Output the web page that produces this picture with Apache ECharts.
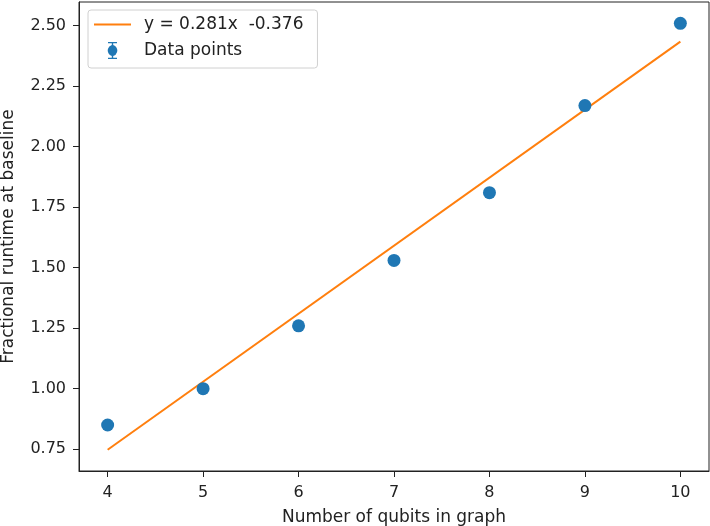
<!DOCTYPE html>
<html>
<head>
<meta charset="utf-8">
<script src="https://cdn.jsdelivr.net/npm/echarts@6/dist/echarts.min.js"></script>
<style>
  html, body { margin: 0; padding: 0; background: #fff; }
  #chart { width: 710px; height: 526px; }
</style>
</head>
<body>
<div id="chart"></div>
<script>
// qubit counts and measured runtimes
var qubits = [4, 5, 6, 7, 8, 9, 10];
var runtimes = [0.85, 1.00, 1.26, 1.53, 1.81, 2.17, 2.51];

// fitted line end points
var fitX = [4, 10];
var fitY = [0.748, 2.434];

var yTicks = [0.75, 1.00, 1.25, 1.50, 1.75, 2.00, 2.25, 2.50];

var fitName = 'y = 0.281x  -0.376';
var pointsName = 'Data points';

var font = 'DejaVu Sans';

var chart = echarts.init(document.getElementById('chart'));

chart.setOption({
  animation: false,
  textStyle: { fontFamily: font },
  grid: { left: 79, right: 1, top: 2, bottom: 55, containLabel: false, outerBoundsMode: 'none' },
  legend: {
    left: 88,
    top: 10,
    orient: 'vertical',
    itemGap: 9,
    itemWidth: 37,
    itemHeight: 17,
    padding: [6, 14, 9, 6],
    borderColor: '#d0d0d0',
    borderWidth: 1,
    borderRadius: 3,
    textStyle: { fontFamily: font, fontSize: 17, color: '#222', padding: [0, 0, 0, 8] },
    data: [
      { name: fitName, icon: 'path://M0,7.5 L37,7.5 L37,9.7 L0,9.7 Z' },
      { name: pointsName, icon: 'path://M14,0 L23,0 L23,1.3 L19.2,1.3 L19.2,3.1 A5.6,5.6 0 0 1 19.2,13.9 L19.2,15.7 L23,15.7 L23,17 L14,17 L14,15.7 L17.8,15.7 L17.8,13.9 A5.6,5.6 0 0 1 17.8,3.1 L17.8,1.3 L14,1.3 Z' }
    ]
  },
  xAxis: {
    type: 'value',
    min: 3.7,
    max: 10.3,
    name: 'Number of qubits in graph',
    nameLocation: 'middle',
    nameGap: 38,
    nameTextStyle: { fontSize: 17, color: '#222' },
    axisLine: { onZero: false, lineStyle: { color: '#222', width: 1 } },
    axisTick: { show: true, length: 6, lineStyle: { color: '#222' }, customValues: qubits },
    axisLabel: {
      fontSize: 16,
      color: '#222',
      margin: 14,
      customValues: qubits
    },
    splitLine: { show: false }
  },
  yAxis: {
    type: 'value',
    min: 0.66,
    max: 2.598,
    name: 'Fractional runtime at baseline',
    nameLocation: 'middle',
    nameGap: 62,
    nameTextStyle: { fontSize: 17, color: '#222' },
    axisLine: { show: true, onZero: false, lineStyle: { color: '#222', width: 1 } },
    axisTick: { show: true, length: 6, lineStyle: { color: '#222' }, customValues: yTicks },
    axisLabel: {
      fontSize: 16,
      color: '#222',
      margin: 13,
      customValues: yTicks,
      formatter: function (v) { return v.toFixed(2); }
    },
    splitLine: { show: false }
  },
  series: [
    {
      name: fitName,
      type: 'line',
      data: fitX.map(function (x, i) { return [x, fitY[i]]; }),
      showSymbol: false,
      lineStyle: { color: '#ff7f0e', width: 2 },
      itemStyle: { color: '#ff7f0e' },
      z: 2
    },
    {
      name: pointsName,
      type: 'scatter',
      data: qubits.map(function (x, i) { return [x, runtimes[i]]; }),
      symbol: 'circle',
      symbolSize: 13,
      itemStyle: { color: '#1f77b4', opacity: 1 },
      z: 3
    }
  ],
  graphic: [
    {
      type: 'rect',
      shape: { x: 79, y: 2, width: 630, height: 469 },
      style: { fill: 'none', stroke: '#222', lineWidth: 1 },
      silent: true,
      z: 0
    }
  ]
});
</script>
</body>
</html>
